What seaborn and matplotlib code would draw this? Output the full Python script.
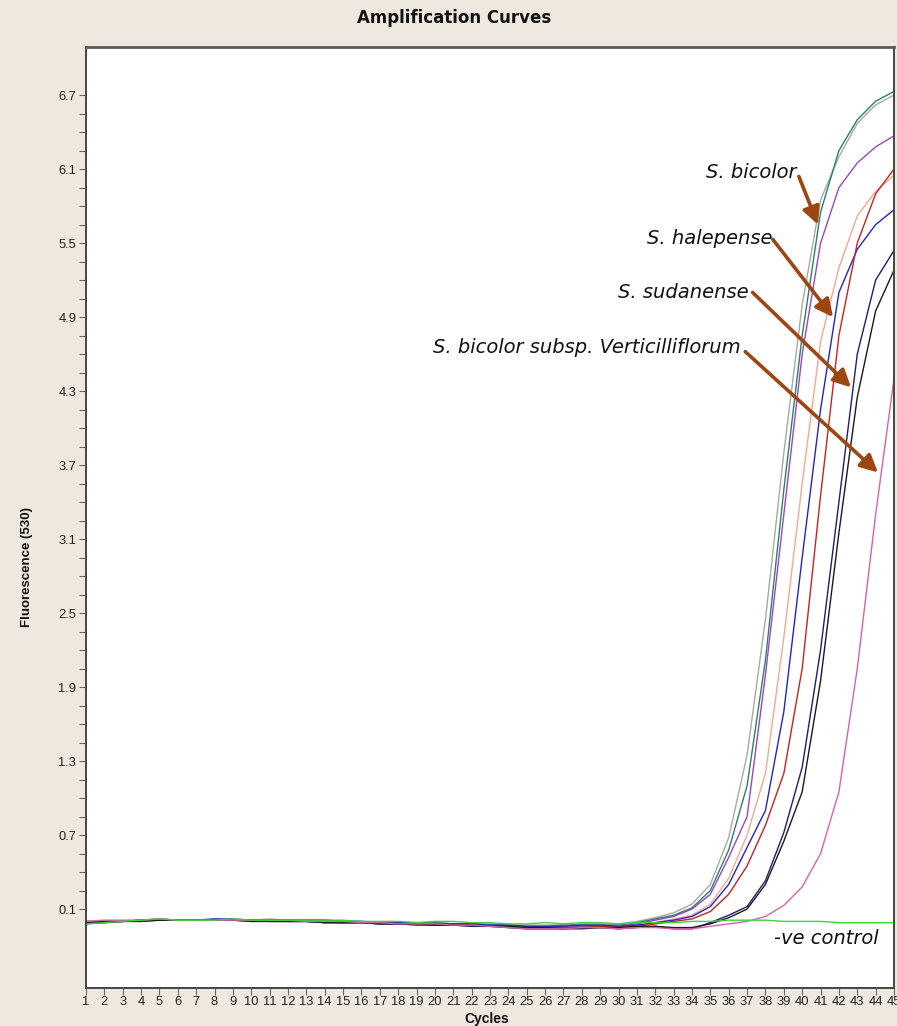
import matplotlib
matplotlib.use("Agg")
import matplotlib.pyplot as plt
import pandas as pd
import seaborn as sns
from matplotlib.ticker import FixedLocator

# ---- data: fluorescence (530 nm) per PCR cycle ----
cycles = list(range(1, 46))

s_bicolor_a = [-0.01, 0.00, 0.00, 0.01, 0.02, 0.01, 0.01, 0.02, 0.01, 0.01, 0.02, 0.01, 0.01, 0.01, 0.00,
               0.00, -0.01, -0.01, -0.01, -0.01, -0.02, -0.02, -0.02, -0.03, -0.03, -0.03, -0.03, -0.02, -0.02, -0.02,
               0.00, 0.03, 0.07, 0.14, 0.30, 0.68, 1.35, 2.45, 3.80, 5.00, 5.85, 6.20, 6.47, 6.62, 6.70]
s_bicolor_b = [-0.02, -0.01, 0.00, 0.01, 0.02, 0.01, 0.01, 0.01, 0.01, 0.01, 0.01, 0.01, 0.00, 0.00, 0.00,
               -0.01, -0.01, -0.01, -0.02, -0.01, -0.02, -0.02, -0.03, -0.03, -0.04, -0.04, -0.03, -0.03, -0.03, -0.03,
               -0.01, 0.02, 0.05, 0.11, 0.25, 0.58, 1.10, 2.12, 3.50, 4.75, 5.75, 6.25, 6.50, 6.65, 6.73]
s_bicolor_c = [0.00, 0.00, 0.00, 0.01, 0.01, 0.01, 0.01, 0.01, 0.01, 0.00, 0.00, 0.00, 0.00, -0.01, -0.01,
               -0.01, -0.02, -0.02, -0.02, -0.03, -0.03, -0.03, -0.04, -0.04, -0.05, -0.05, -0.05, -0.04, -0.04, -0.04,
               -0.02, 0.01, 0.04, 0.10, 0.22, 0.52, 0.85, 2.00, 3.30, 4.60, 5.50, 5.95, 6.15, 6.28, 6.37]
s_halepense_a = [-0.01, 0.00, 0.00, 0.01, 0.01, 0.01, 0.01, 0.01, 0.01, 0.01, 0.00, 0.00, 0.00, 0.00, -0.01,
                 -0.01, -0.02, -0.02, -0.02, -0.03, -0.03, -0.04, -0.04, -0.05, -0.06, -0.06, -0.06, -0.05, -0.05, -0.06,
                 -0.04, -0.01, 0.02, 0.05, 0.14, 0.35, 0.70, 1.20, 2.30, 3.55, 4.70, 5.30, 5.72, 5.92, 6.05]
s_halepense_b = [-0.01, 0.00, 0.00, 0.01, 0.01, 0.01, 0.01, 0.02, 0.02, 0.01, 0.01, 0.01, 0.01, 0.01, 0.00,
                 0.00, -0.01, -0.01, -0.01, -0.02, -0.02, -0.02, -0.03, -0.03, -0.04, -0.04, -0.04, -0.03, -0.03, -0.04,
                 -0.03, -0.01, 0.01, 0.04, 0.12, 0.30, 0.60, 0.90, 1.70, 2.95, 4.15, 5.10, 5.45, 5.65, 5.77]
s_halepense_c = [0.00, 0.00, 0.00, 0.00, 0.01, 0.01, 0.01, 0.01, 0.01, 0.01, 0.01, 0.00, 0.00, 0.00, -0.01,
                 -0.01, -0.01, -0.02, -0.02, -0.02, -0.03, -0.03, -0.04, -0.04, -0.05, -0.05, -0.05, -0.05, -0.04, -0.05,
                 -0.04, -0.02, 0.00, 0.02, 0.08, 0.22, 0.45, 0.78, 1.20, 2.05, 3.45, 4.75, 5.50, 5.90, 6.10]
s_sudanense_a = [-0.01, 0.00, 0.00, 0.01, 0.01, 0.01, 0.01, 0.01, 0.01, 0.01, 0.00, 0.00, 0.00, -0.01, -0.01,
                 -0.01, -0.02, -0.02, -0.03, -0.03, -0.03, -0.04, -0.04, -0.05, -0.06, -0.06, -0.06, -0.06, -0.05, -0.06,
                 -0.05, -0.04, -0.06, -0.06, -0.01, 0.05, 0.12, 0.33, 0.72, 1.25, 2.20, 3.40, 4.60, 5.20, 5.44]
s_sudanense_b = [-0.01, -0.01, 0.00, 0.00, 0.01, 0.01, 0.01, 0.01, 0.01, 0.00, 0.00, 0.00, 0.00, -0.01, -0.01,
                 -0.01, -0.02, -0.02, -0.02, -0.03, -0.03, -0.03, -0.04, -0.04, -0.05, -0.05, -0.06, -0.05, -0.05, -0.05,
                 -0.04, -0.04, -0.05, -0.05, -0.02, 0.03, 0.10, 0.30, 0.65, 1.05, 1.95, 3.15, 4.25, 4.95, 5.28]
s_verticilliflorum = [0.00, 0.01, 0.01, 0.01, 0.02, 0.01, 0.01, 0.01, 0.01, 0.01, 0.01, 0.01, 0.00, 0.00, 0.00,
                      -0.01, -0.01, -0.02, -0.02, -0.02, -0.03, -0.03, -0.04, -0.05, -0.06, -0.06, -0.06, -0.05, -0.05, -0.06,
                      -0.05, -0.05, -0.06, -0.06, -0.04, -0.02, 0.00, 0.04, 0.13, 0.28, 0.55, 1.05, 2.05, 3.30, 4.40]
neg_control = [-0.02, -0.01, 0.00, 0.01, 0.02, 0.01, 0.01, 0.01, 0.02, 0.01, 0.01, 0.01, 0.01, 0.01, 0.01,
               0.00, 0.00, 0.00, -0.01, 0.00, 0.00, -0.01, -0.01, -0.02, -0.02, -0.01, -0.02, -0.01, -0.01, -0.02,
               -0.01, -0.01, -0.01, 0.00, 0.00, 0.01, 0.01, 0.01, 0.00, 0.00, 0.00, -0.01, -0.01, -0.01, -0.01]

samples = {
    "S. bicolor A": s_bicolor_a,
    "S. bicolor B": s_bicolor_b,
    "S. bicolor C": s_bicolor_c,
    "S. halepense A": s_halepense_a,
    "S. halepense B": s_halepense_b,
    "S. halepense C": s_halepense_c,
    "S. sudanense A": s_sudanense_a,
    "S. sudanense B": s_sudanense_b,
    "S. verticilliflorum": s_verticilliflorum,
    "-ve control": neg_control,
}
line_colors = {
    "S. bicolor A": "#A3AC9E",
    "S. bicolor B": "#2E7E6C",
    "S. bicolor C": "#9A45C4",
    "S. halepense A": "#F2AA92",
    "S. halepense B": "#2424C0",
    "S. halepense C": "#C42424",
    "S. sudanense A": "#1E1E6E",
    "S. sudanense B": "#1A1A1A",
    "S. verticilliflorum": "#D862A8",
    "-ve control": "#3CD23C",
}

y_major = [0.1, 0.7, 1.3, 1.9, 2.5, 3.1, 3.7, 4.3, 4.9, 5.5, 6.1, 6.7]
y_minor = [0.25, 0.4, 0.55, 0.85, 1.0, 1.15, 1.45, 1.6, 1.75, 2.05, 2.2, 2.35,
           2.65, 2.8, 2.95, 3.25, 3.4, 3.55, 3.85, 4.0, 4.15, 4.45, 4.6, 4.75,
           5.05, 5.2, 5.35, 5.65, 5.8, 5.95, 6.25, 6.4, 6.55]

df = pd.concat(
    [pd.DataFrame({"Cycle": cycles, "Fluorescence": vals, "Sample": name})
     for name, vals in samples.items()],
    ignore_index=True,
)

# ---- style ----
BG = "#EEE8DF"
ARROW = "#9E4612"
sns.set_theme(style="white")
plt.rcParams["font.family"] = ["Liberation Sans", "DejaVu Sans"]

W, H = 897, 1026
fig = plt.figure(figsize=(W / 100, H / 100), dpi=100, facecolor=BG)
ax = fig.add_axes([86 / W, 38 / H, 808 / W, 941 / H])
ax.set_facecolor("white")

sns.lineplot(data=df, x="Cycle", y="Fluorescence", hue="Sample",
             palette=line_colors, estimator=None, sort=False,
             linewidth=1.0, legend=False, ax=ax)

ax.set_xlim(1, 45)
ax.set_ylim(-0.54, 7.09)
ax.set_xlabel("")
ax.set_ylabel("")

ax.set_xticks(cycles)
ax.set_xticklabels([str(c) for c in cycles])
ax.set_yticks(y_major)
ax.set_yticklabels([f"{v:.1f}" for v in y_major])
ax.yaxis.set_minor_locator(FixedLocator(y_minor))
ax.tick_params(axis="both", which="both", direction="out", length=5, width=0.8,
               color="#666666", labelsize=9.3, labelcolor="#222222", pad=2,
               bottom=True, left=True)
ax.tick_params(axis="x", pad=1)

for side, sp in ax.spines.items():
    sp.set_visible(True)
    sp.set_color("#454545")
    sp.set_linewidth(1.4)
ax.spines["top"].set_color("#5a5a5a")
ax.spines["top"].set_linewidth(2.0)

# ---- labels ----
fig.text(454 / W, 1 - 18 / H, "Amplification Curves", ha="center", va="center",
         fontsize=12, fontweight="bold", family="DejaVu Sans", color="#111111")
fig.text(27 / W, 1 - 567 / H, "Fluorescence (530)", rotation=90, ha="center",
         va="center", fontsize=9.5, fontweight="bold", color="#111111")
fig.text(487 / W, 1 - 1019 / H, "Cycles", ha="center", va="center",
         fontsize=10, fontweight="bold", color="#111111")

# ---- species annotations ----
labels = [
    ("S. bicolor", (34.75, 6.07), (39.82, 6.04), (40.86, 5.65)),
    ("S. halepense", (31.53, 5.54), (38.40, 5.53), (41.68, 4.90)),
    ("S. sudanense", (29.95, 5.10), (37.30, 5.10), (42.66, 4.33)),
    ("S. bicolor subsp. Verticilliflorum", (19.87, 4.65), (36.90, 4.62), (44.13, 3.64)),
]
for text, pos, start, tip in labels:
    ax.text(pos[0], pos[1], text, ha="left", va="center", fontsize=14,
            style="italic", family="DejaVu Sans", color="#111111", zorder=5)
    ax.annotate("", xy=tip, xytext=start,
                arrowprops=dict(arrowstyle="-|>,head_length=0.7,head_width=0.35",
                                color=ARROW, lw=2.6, mutation_scale=15,
                                shrinkA=0, shrinkB=0),
                zorder=6)

ax.text(38.46, -0.14, "-ve control", ha="left", va="center", fontsize=14,
        style="italic", family="DejaVu Sans", color="#111111")

fig.savefig("out.png", dpi=100, facecolor=BG)
